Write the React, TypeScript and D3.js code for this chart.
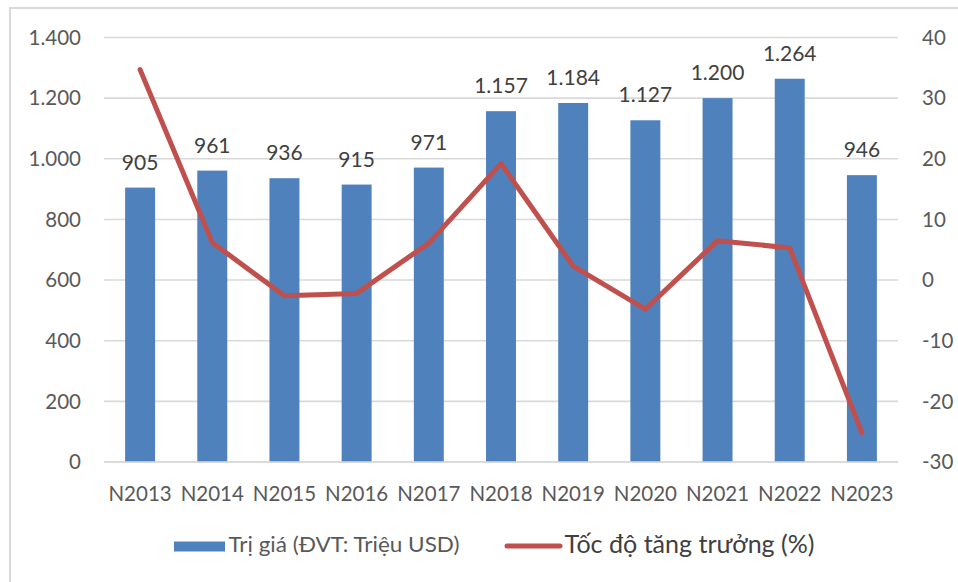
import React from "react";
import * as d3 from "d3";

const categories = ["N2013", "N2014", "N2015", "N2016", "N2017", "N2018", "N2019", "N2020", "N2021", "N2022", "N2023"];
const values = [905, 961, 936, 915, 971, 1157, 1184, 1127, 1200, 1264, 946];
const growth = [34.7, 6.2, -2.6, -2.2, 6.1, 19.2, 2.3, -4.8, 6.5, 5.3, -25.2];
const leftTicks = [0, 200, 400, 600, 800, 1000, 1200, 1400];
const rightTicks = [-30, -20, -10, 0, 10, 20, 30, 40];
const legendBar = "Trị giá (ĐVT: Triệu USD)";
const legendLine = "Tốc độ tăng trưởng (%)";

const fmt = (v: number) => {
  const s = String(Math.round(v));
  return s.replace(/\B(?=(\d{3})+(?!\d))/g, ".");
};

export default function App() {
  const W = 958, H = 582;
  const left = 104, right = 898, top = 37.5, bottom = 462;
  const x = d3.scaleBand<string>().domain(categories).range([left, right]).paddingInner(0.585).paddingOuter(0.2925);
  const yL = d3.scaleLinear().domain([0, 1400]).range([bottom, top]);
  const yR = d3.scaleLinear().domain([-30, 40]).range([bottom, top]);
  const cx = (c: string) => (x(c) as number) + x.bandwidth() / 2;
  const line = d3.line<number>().x((_, i) => cx(categories[i])).y((d) => yR(d));
  const font = "Lato, 'Open Sans', sans-serif";
  const grey = "#595959";
  return (
    <svg width={W} height={H} style={{ position: "absolute", left: 0, top: 0, background: "#fff" }} fontFamily={font}>
      <rect x={10} y={8} width={1000} height={700} fill="#fff" stroke="#d9d9d9" strokeWidth={2} />
      {leftTicks.map((t) => (
        <line key={"g" + t} x1={left} x2={right} y1={yL(t)} y2={yL(t)} stroke="#d9d9d9" strokeWidth={1.6} />
      ))}
      {categories.map((c, i) => (
        <rect key={c} x={x(c)} y={yL(values[i])} width={x.bandwidth()} height={bottom - yL(values[i])} fill="#4f81bd" />
      ))}
      <line x1={left} x2={right} y1={bottom} y2={bottom} stroke="#d9d9d9" strokeWidth={1.6} />
      <path d={line(growth) || ""} fill="none" stroke="#c0504d" strokeWidth={5} strokeLinejoin="round" strokeLinecap="round" />
      {categories.map((c, i) => (
        <text key={"v" + c} x={cx(c)} y={yL(values[i]) - 18} textAnchor="middle" fontSize={21} fill="#404040">
          {fmt(values[i])}
        </text>
      ))}
      {leftTicks.map((t) => (
        <text key={"l" + t} x={81} y={yL(t) + 7.3} textAnchor="end" fontSize={20.5} fill={grey}>
          {fmt(t)}
        </text>
      ))}
      {rightTicks.map((t) => (
        <text key={"r" + t} x={922} y={yR(t) + 7.3} textAnchor="start" fontSize={20.5} fill={grey}>
          {String(t)}
        </text>
      ))}
      {categories.map((c) => (
        <text key={"x" + c} x={cx(c)} y={501} textAnchor="middle" fontSize={20.5} fill={grey}>
          {c}
        </text>
      ))}
      <rect x={174} y={541.5} width={51} height={10} fill="#4f81bd" />
      <text x={228.5} y={552.3} fontSize={21.5} textLength={231} lengthAdjust="spacingAndGlyphs" fill={grey}>{legendBar}</text>
      <line x1={507} x2={560} y1={546} y2={546} stroke="#c0504d" strokeWidth={5} strokeLinecap="round" />
      <text x={564.5} y={553.3} fontSize={24.5} textLength={250} lengthAdjust="spacingAndGlyphs" fill="#404040">{legendLine}</text>
    </svg>
  );
}
